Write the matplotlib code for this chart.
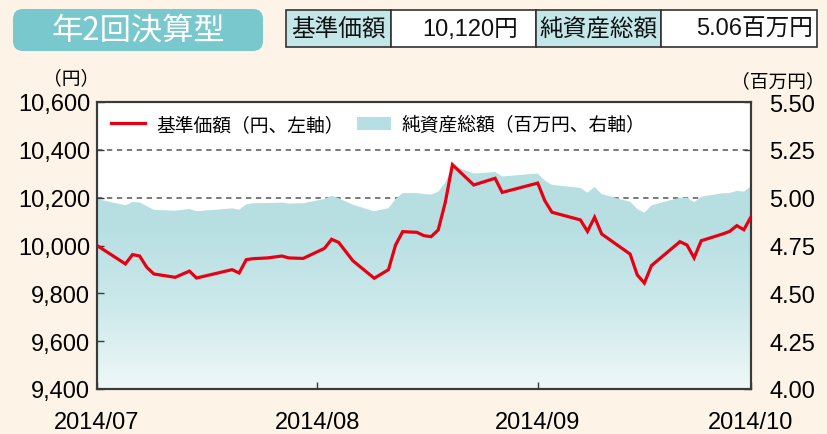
import matplotlib
matplotlib.use('Agg')
import matplotlib.pyplot as plt
import matplotlib.dates as mdates
from matplotlib.patches import FancyBboxPatch, Rectangle, Patch
from matplotlib.lines import Line2D
from matplotlib.colors import LinearSegmentedColormap
import numpy as np
import pandas as pd

plt.rcParams['font.family'] = ['Liberation Sans', 'Noto Sans CJK JP', 'DejaVu Sans']

# ---------------- data ----------------
title_text = '年2回決算型'
table_labels = ['基準価額', '10,120円', '純資産総額', '5.06百万円']
left_unit = '（円）'
right_unit = '（百万円）'
nav_label = '基準価額（円、左軸）'
aum_label = '純資産総額（百万円、右軸）'

dates = ['2014-07-01', '2014-07-05', '2014-07-06', '2014-07-07', '2014-07-08',
         '2014-07-09', '2014-07-12', '2014-07-14', '2014-07-15', '2014-07-20',
         '2014-07-21', '2014-07-22', '2014-07-23', '2014-07-25', '2014-07-27',
         '2014-07-28', '2014-07-30', '2014-08-02', '2014-08-03', '2014-08-04',
         '2014-08-06', '2014-08-09', '2014-08-11', '2014-08-12', '2014-08-13',
         '2014-08-15', '2014-08-16', '2014-08-17', '2014-08-18', '2014-08-19',
         '2014-08-20', '2014-08-23', '2014-08-26', '2014-08-27', '2014-09-01',
         '2014-09-02', '2014-09-03', '2014-09-07', '2014-09-08', '2014-09-09',
         '2014-09-10', '2014-09-14', '2014-09-15', '2014-09-16', '2014-09-17',
         '2014-09-21', '2014-09-22', '2014-09-23', '2014-09-24', '2014-09-27',
         '2014-09-28', '2014-09-29', '2014-09-30', '2014-10-01']

nav = [10000, 9923, 9962, 9956, 9909,
       9881, 9867, 9893, 9864, 9899,
       9885, 9941, 9945, 9948, 9956,
       9948, 9946, 9988, 10026, 10013,
       9936, 9863, 9899, 10002, 10058,
       10055, 10041, 10037, 10065, 10181,
       10338, 10253, 10281, 10222, 10261,
       10187, 10139, 10107, 10059, 10118,
       10048, 9964, 9877, 9843, 9916,
       10016, 10002, 9948, 10020, 10048,
       10059, 10083, 10066, 10120]

aum = [4.993, 4.960, 4.977, 4.975, 4.956,
       4.936, 4.932, 4.941, 4.929, 4.944,
       4.937, 4.965, 4.971, 4.972, 4.974,
       4.969, 4.971, 4.993, 5.010, 4.997,
       4.963, 4.929, 4.945, 4.993, 5.024,
       5.024, 5.019, 5.016, 5.031, 5.079,
       5.168, 5.126, 5.134, 5.111, 5.126,
       5.089, 5.067, 5.051, 5.026, 5.056,
       5.019, 4.978, 4.941, 4.921, 4.960,
       5.000, 5.000, 4.976, 5.005, 5.023,
       5.024, 5.036, 5.031, 5.060]

month_ticks = ['2014-07-01', '2014-08-01', '2014-09-01', '2014-10-01']
month_labels = ['2014/07', '2014/08', '2014/09', '2014/10']
left_ticks = [9400, 9600, 9800, 10000, 10200, 10400, 10600]
left_labels = ['9,400', '9,600', '9,800', '10,000', '10,200', '10,400', '10,600']
right_ticks = [4.00, 4.25, 4.50, 4.75, 5.00, 5.25, 5.50]
right_labels = ['4.00', '4.25', '4.50', '4.75', '5.00', '5.25', '5.50']
grid_levels = [5.00, 5.25]

# ---------------- style ----------------
W, H = 827, 435
BG = '#fdf4e7'
RED = '#e60012'
TEAL = '#b5dfe2'
SPINE = '#3a3a3a'

fig = plt.figure(figsize=(W / 100, H / 100), dpi=100, facecolor=BG)

def fx(x):
    return x / W

def fy(y):
    return 1 - y / H

# header
box = FancyBboxPatch((fx(13), fy(52)), fx(250), 42 / H,
                     boxstyle='round,pad=0,rounding_size=0.012',
                     transform=fig.transFigure, facecolor='#79c8ce',
                     edgecolor='none', mutation_aspect=W / H)
fig.patches.append(box)
fig.text(fx(138), fy(31), title_text, color='white', fontsize=22.5,
         ha='center', va='center', family=['Noto Sans CJK JP'])

cells = [(286, 391, True), (391, 536, False), (536, 661, True), (661, 817, False)]
value_right = {1: 518, 3: 813}
for i, ((x0, x1, is_label), txt) in enumerate(zip(cells, table_labels)):
    r = Rectangle((fx(x0), fy(48)), fx(x1 - x0), 37 / H,
                  transform=fig.transFigure,
                  facecolor='#c3e6e8' if is_label else 'white',
                  edgecolor='#333333', linewidth=1.2)
    fig.patches.append(r)
    if is_label:
        fig.text(fx((x0 + x1) / 2), fy(30), txt, fontsize=17,
                 ha='center', va='center', color='#111111')
    else:
        fig.text(fx(value_right[i]), fy(30), txt, fontsize=17,
                 ha='right', va='center', color='#111111')

# axes
x = mdates.date2num(pd.to_datetime(dates))
ax1 = fig.add_axes([fx(97), fy(390), fx(751 - 97), (390 - 103) / H])
ax2 = ax1.twinx()
ax1.set_zorder(ax2.get_zorder() + 1)
ax1.patch.set_visible(False)
ax2.patch.set_visible(True)
ax2.set_facecolor('white')

xmin = mdates.date2num(pd.Timestamp(month_ticks[0]))
xmax = mdates.date2num(pd.Timestamp(month_ticks[-1]))

# grid (under the area)
for g in grid_levels:
    ax2.axhline(g, color='#555555', lw=1.1, ls=(0, (3.5, 3)), zorder=1)

# gradient area
poly = ax2.fill_between(x, aum, right_ticks[0], color='none', lw=0)
grad = np.linspace(0, 1, 256).reshape(-1, 1)
cmap = LinearSegmentedColormap.from_list(
    'g', [(0, '#eef8f8'), (0.3, '#cbe8ea'), (0.55, '#b8e0e3'), (1, TEAL)])
im = ax2.imshow(grad, extent=[xmin, xmax, right_ticks[0], right_ticks[-1]],
                origin='lower', aspect='auto', cmap=cmap, zorder=2)
im.set_clip_path(poly.get_paths()[0], transform=ax2.transData)

ax1.plot(x, nav, color=RED, lw=2.3, solid_joinstyle='miter', zorder=3)

ax1.set_xlim(xmin, xmax)
ax2.set_xlim(xmin, xmax)
ax1.set_ylim(left_ticks[0], left_ticks[-1])
ax2.set_ylim(right_ticks[0], right_ticks[-1])

ax1.set_xticks(mdates.date2num(pd.to_datetime(month_ticks)))
ax1.set_xticklabels(month_labels, fontsize=17)
ax1.set_yticks(left_ticks)
ax1.set_yticklabels(left_labels, fontsize=17)
ax2.set_yticks(right_ticks)
ax2.set_yticklabels(right_labels, fontsize=17)

ax1.tick_params(axis='x', direction='in', length=5, width=1, color=SPINE, pad=16)
ax1.tick_params(axis='y', direction='in', length=5, width=1, color=SPINE, pad=5)
ax2.tick_params(axis='y', direction='in', length=5, width=1, color=SPINE, pad=13)
ax1.tick_params(top=False)

for ax in (ax1, ax2):
    for s in ax.spines.values():
        s.set_color(SPINE)
        s.set_linewidth(1.5)

# units
fig.text(fx(99), fy(79), left_unit, fontsize=13.5, ha='right', va='center',
         family=['Noto Sans CJK JP'])
fig.text(fx(825), fy(82), right_unit, fontsize=13.5, ha='right', va='center',
         family=['Noto Sans CJK JP'])

# legend
handles = [Line2D([], [], color=RED, lw=2.3),
           Patch(facecolor=TEAL, edgecolor='none')]
ax1.legend(handles, [nav_label, aum_label], loc='upper left',
           bbox_to_anchor=(0.016, 0.972), ncol=2, frameon=False,
           handlelength=1.8, handletextpad=0.6,
           columnspacing=0.7, borderpad=0.2, borderaxespad=0,
           prop={'family': ['Noto Sans CJK JP'], 'size': 13.5})

fig.savefig('out.png', dpi=100, facecolor=BG)
